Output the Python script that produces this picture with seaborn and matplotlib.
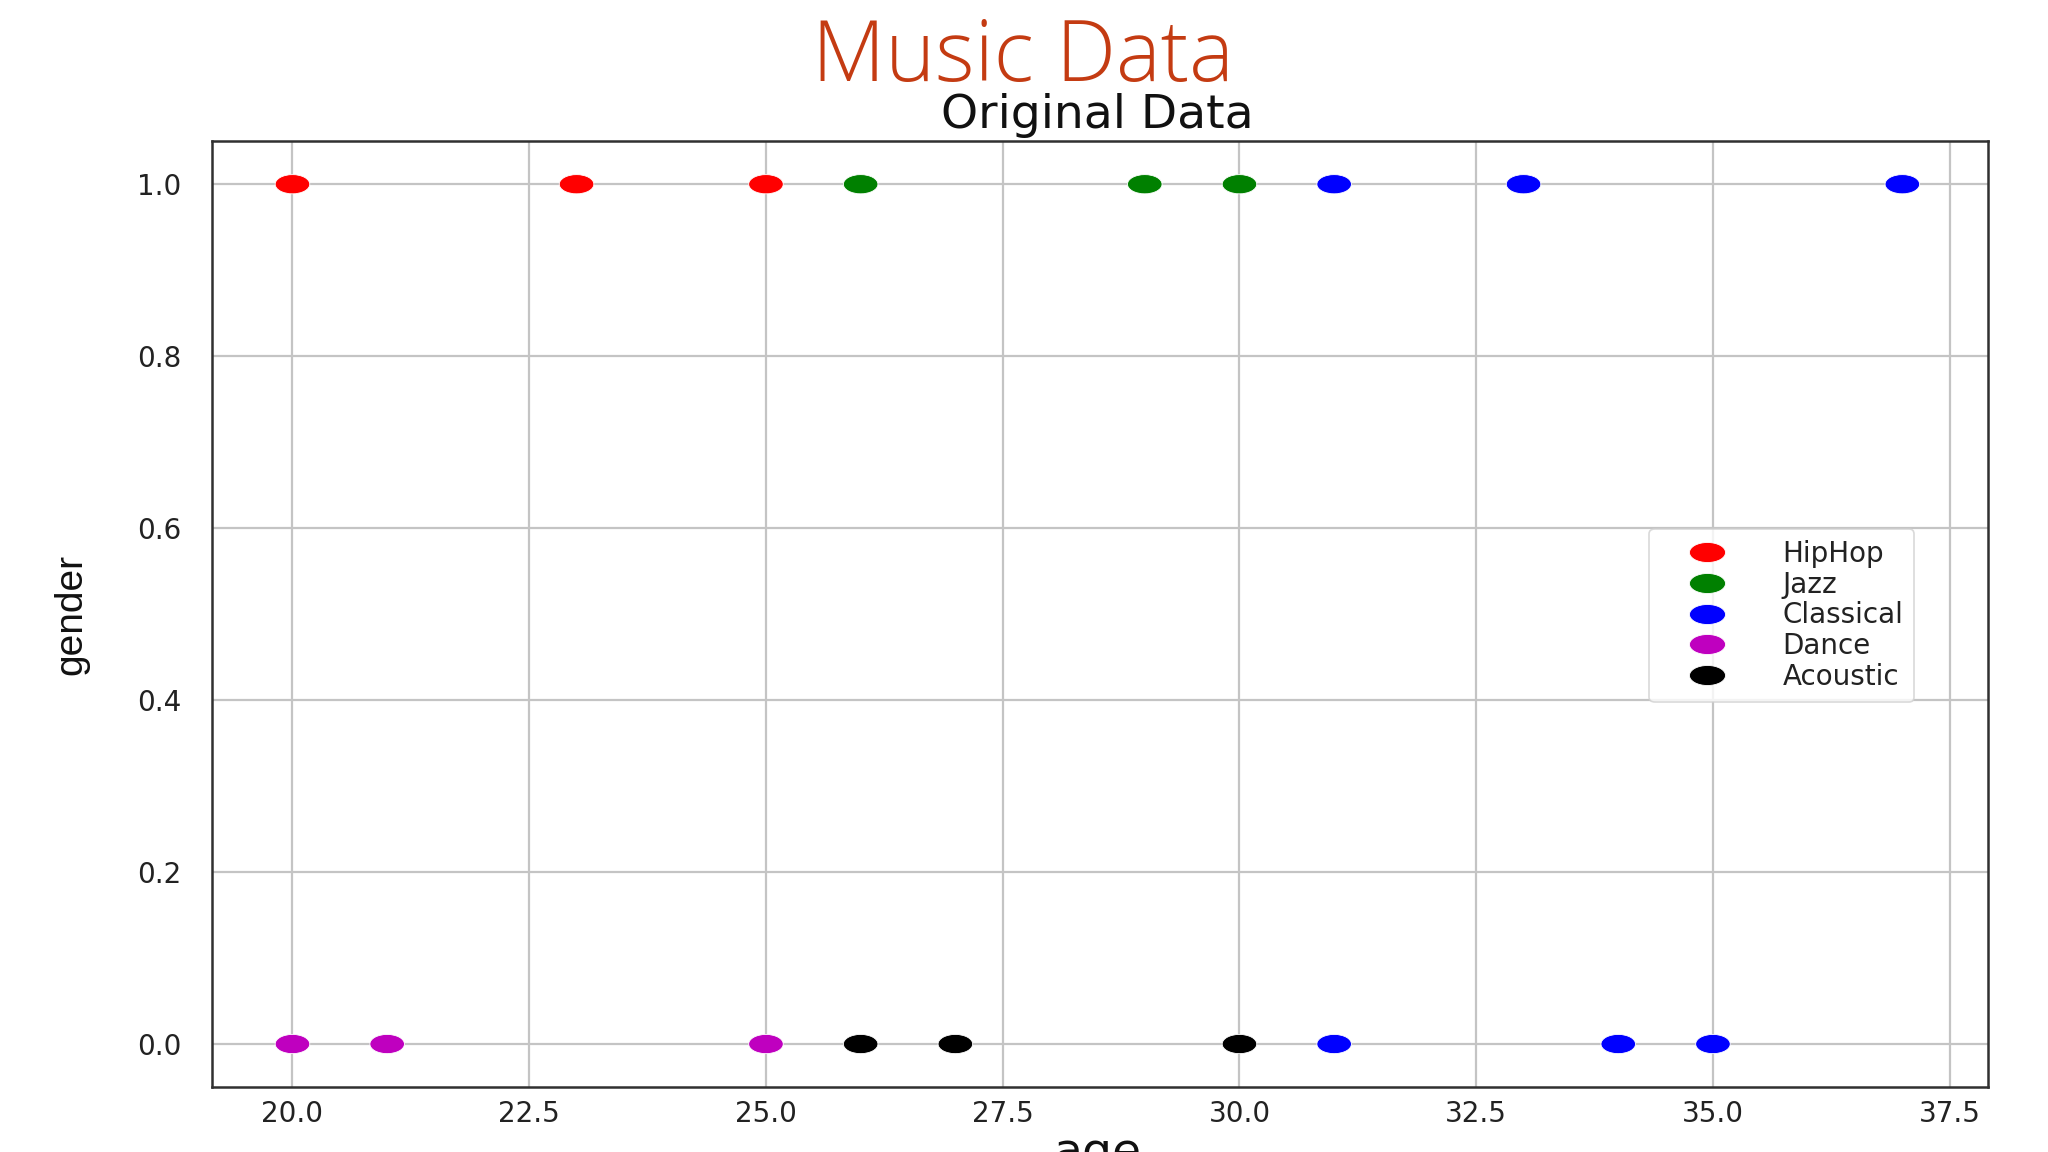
import pandas as pd
import matplotlib
matplotlib.use('Agg')
import matplotlib.pyplot as plt
import seaborn as sns
from matplotlib.path import Path
from matplotlib.transforms import Affine2D
from matplotlib.lines import Line2D

## data
age = [20, 23, 25, 26, 29, 30, 31, 33, 37, 31, 34, 35, 20, 21, 25, 26, 27, 30]
gender = [1, 1, 1, 1, 1, 1, 1, 1, 1, 0, 0, 0, 0, 0, 0, 0, 0, 0]
genre = ['HipHop', 'HipHop', 'HipHop', 'Jazz', 'Jazz', 'Jazz',
         'Classical', 'Classical', 'Classical', 'Classical', 'Classical', 'Classical',
         'Dance', 'Dance', 'Dance', 'Acoustic', 'Acoustic', 'Acoustic']
genres = ['HipHop', 'Jazz', 'Classical', 'Dance', 'Acoustic']
genre_colors = ['#ff0000', '#008000', '#0000ff', '#bf00bf', '#000000']
x_ticks = [20.0, 22.5, 25.0, 27.5, 30.0, 32.5, 35.0, 37.5]
y_ticks = [0.0, 0.2, 0.4, 0.6, 0.8, 1.0]

df = pd.DataFrame({'age': age, 'gender': gender, 'genre': genre})
palette = dict(zip(genres, genre_colors))

sns.set_style('white')
plt.rcParams['font.family'] = ['DejaVu Sans']

# the screenshot is stretched sideways, so use oval markers
oval = Path.unit_circle().transformed(Affine2D().scale(1.8, 1.0))

fig = plt.figure(figsize=(20.48, 11.52), dpi=100)
ax = fig.add_axes([0.1035, 0.0564, 0.867, 0.821])

sns.scatterplot(data=df, x='age', y='gender', hue='genre', hue_order=genres,
                palette=palette, marker=oval, s=620, edgecolor='white',
                linewidth=0.6, legend=False, ax=ax, zorder=3)

ax.set_xlim(19.15, 37.9)
ax.set_ylim(-0.05, 1.05)
ax.set_xticks(x_ticks)
ax.set_xticklabels([f'{v:.1f}' for v in x_ticks])
ax.set_yticks(y_ticks)
ax.set_yticklabels([f'{v:.1f}' for v in y_ticks])
ax.grid(True, color='#c4c4c4', linewidth=1.6)
ax.set_axisbelow(True)
for sp in ax.spines.values():
    sp.set_color('#303030')
    sp.set_linewidth(1.8)
ax.tick_params(axis='y', direction='out', length=6, width=1.2,
               color='#303030', labelsize=20, labelcolor='#222222', pad=16)
ax.tick_params(axis='x', direction='out', length=0, labelsize=20,
               labelcolor='#222222', pad=9)
ax.set_xlabel('')
ax.set_ylabel('')

handles = [Line2D([0], [0], marker=oval, linestyle='', markersize=26,
                  markerfacecolor=c, markeredgecolor='white', markeredgewidth=0.6)
           for c in genre_colors]
leg = fig.legend(handles, genres, loc='upper left', bbox_to_anchor=(0.8052, 0.541),
                 fontsize=20, frameon=True, borderpad=0.4, labelspacing=0.1,
                 handletextpad=1.0, handlelength=3.4, borderaxespad=0)
leg.get_frame().set_edgecolor('#d0d0d0')
leg.get_frame().set_linewidth(1.2)
for t in leg.get_texts():
    t.set_color('#222222')

fig.text(0.4995, 0.930, 'Music Data', ha='center', va='baseline', fontsize=61,
         color='#c43b12', family=['Open Sans', 'DejaVu Sans'], fontweight='light')
fig.text(0.5356, 0.889, 'Original Data', ha='center', va='baseline', fontsize=34,
         color='#111111')
fig.text(0.035, 0.467, 'gender', ha='center', va='center', rotation=90,
         fontsize=28, color='#111111', family=['Liberation Sans', 'DejaVu Sans'])
fig.text(0.5356, 0.018, 'age', ha='center', va='top', fontsize=34, color='#111111')

fig.savefig('out.png', dpi=100)
